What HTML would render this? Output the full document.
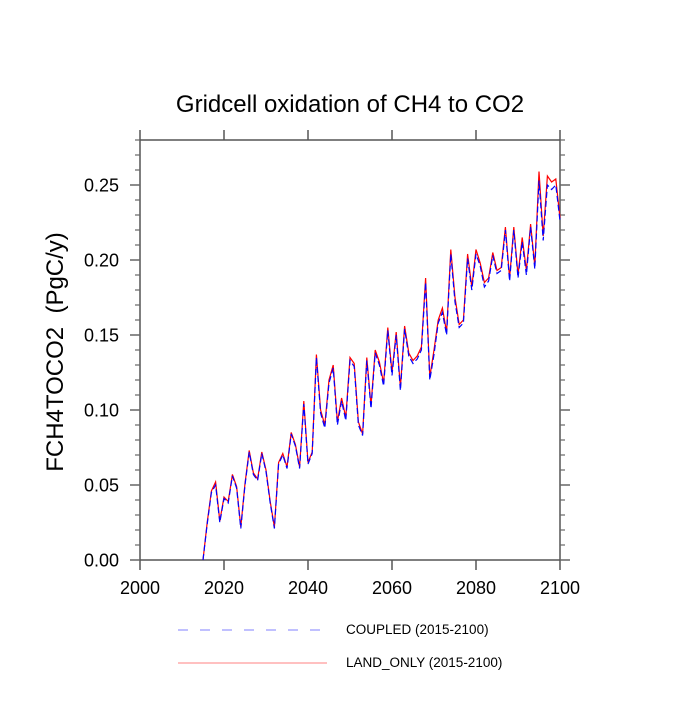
<!DOCTYPE html>
<html><head><meta charset="utf-8"><style>
body{margin:0;background:#fff;}
svg text{font-family:"Liberation Sans",sans-serif;}
</style></head><body>
<svg id="chart" width="700" height="700" xmlns="http://www.w3.org/2000/svg">
<text x="350" y="112" text-anchor="middle" font-size="24">Gridcell oxidation of CH4 to CO2</text>
<text transform="translate(63,352) rotate(-90)" text-anchor="middle" font-size="24">FCH4TOCO2&#160;&#160;(PgC/y)</text>
<g id="axes"></g>
<g id="series"></g>
<g>
<line x1="178" y1="630" x2="327" y2="630" stroke="#8080ff" stroke-width="1" stroke-dasharray="10,12"/>
<text x="346" y="634" font-size="13.5">COUPLED (2015-2100)</text>
<line x1="178" y1="663" x2="327" y2="663" stroke="#ff8080" stroke-width="1"/>
<text x="346" y="667" font-size="13.5">LAND_ONLY (2015-2100)</text>
</g>
</svg>
<script>
const startYear = 2015;
const landOnly = [0.000,0.025,0.046,0.052,0.026,0.042,0.039,0.057,0.049,0.022,0.051,0.073,0.058,0.054,0.072,0.060,0.039,0.022,0.065,0.071,0.062,0.085,0.077,0.062,0.106,0.065,0.072,0.137,0.100,0.090,0.120,0.130,0.092,0.108,0.095,0.135,0.131,0.092,0.084,0.135,0.103,0.140,0.132,0.118,0.155,0.125,0.152,0.115,0.156,0.138,0.133,0.136,0.142,0.188,0.122,0.140,0.160,0.168,0.152,0.207,0.175,0.157,0.160,0.204,0.182,0.207,0.198,0.185,0.188,0.205,0.193,0.195,0.222,0.188,0.222,0.190,0.215,0.193,0.224,0.196,0.259,0.216,0.256,0.252,0.254,0.228];
const coupled = [0.000,0.024,0.045,0.050,0.025,0.041,0.038,0.056,0.048,0.021,0.050,0.072,0.057,0.053,0.071,0.059,0.038,0.021,0.064,0.070,0.061,0.084,0.076,0.061,0.104,0.064,0.071,0.135,0.098,0.088,0.118,0.128,0.090,0.106,0.093,0.133,0.129,0.090,0.083,0.133,0.101,0.138,0.130,0.116,0.153,0.123,0.150,0.113,0.154,0.136,0.131,0.134,0.140,0.185,0.120,0.137,0.158,0.165,0.150,0.204,0.172,0.155,0.158,0.201,0.180,0.204,0.196,0.182,0.186,0.203,0.191,0.193,0.220,0.186,0.220,0.188,0.212,0.190,0.222,0.194,0.253,0.213,0.250,0.247,0.250,0.226];
const xTicks = [2000,2020,2040,2060,2080,2100];
const yTicks = ["0.00","0.05","0.10","0.15","0.20","0.25"];
const L=140,R=560,T=140,B=560;
const xs = y => L + (y-2000)/100*(R-L);
const ys = v => B - v/0.28*(B-T);
const NS="http://www.w3.org/2000/svg";
const ax=document.getElementById('axes'), se=document.getElementById('series');
function mk(tag,at,parent){const e=document.createElementNS(NS,tag);for(const k in at)e.setAttribute(k,at[k]);parent.appendChild(e);return e;}
const frame=mk('rect',{x:L,y:T,width:R-L,height:B-T,fill:'none',stroke:'#555','stroke-width':1.5},ax);


xTicks.forEach(t=>{const x=xs(t);
 mk('line',{x1:x,y1:B,x2:x,y2:B+10,stroke:'#555','stroke-width':1.5},ax);
 mk('line',{x1:x,y1:T,x2:x,y2:T-10,stroke:'#555','stroke-width':1.5},ax);
 const tx=mk('text',{x:x,y:B+34,'text-anchor':'middle','font-size':18},ax);tx.textContent=t;
 
 
});
for(let i=0;i<=28;i++){const v=i/100,y=ys(v),maj=i%5===0,len=maj?10:5;
 mk('line',{x1:L,y1:y,x2:L-len,y2:y,stroke:'#666','stroke-width':maj?1.5:1.2},ax);
 mk('line',{x1:R,y1:y,x2:R+len,y2:y,stroke:'#666','stroke-width':maj?1.5:1.2},ax);}
yTicks.forEach(t=>{const tx=mk('text',{x:L-21,y:ys(parseFloat(t))+6.5,'text-anchor':'end','font-size':18},ax);tx.textContent=t;
 
 });
function pts(a){return a.map((v,i)=>xs(startYear+i)+','+ys(v)).join(' ');}
const lo=mk('polyline',{points:pts(landOnly),fill:'none',stroke:'#ff0000','stroke-width':1.2},se);


const cp=mk('polyline',{points:pts(coupled),fill:'none',stroke:'#0000ff','stroke-width':1.2,'stroke-dasharray':'6,3'},se);


</script>
</body></html>
